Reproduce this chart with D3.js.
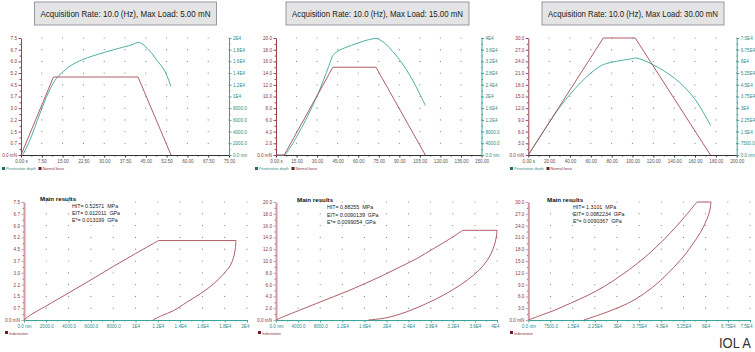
<!DOCTYPE html>
<html>
<head>
<meta charset="utf-8">
<script src="https://cdn.jsdelivr.net/npm/d3@7"></script>
<style>
  body { margin: 0; background: #fff; }
  svg text { font-family: "Liberation Sans", Arial, sans-serif; }
</style>
</head>
<body>
<svg id="chart" width="755" height="352"></svg>
<script>
const titles = [
  "Acquisition Rate: 10.0 (Hz), Max Load: 5.00 mN",
  "Acquisition Rate: 10.0 (Hz), Max Load: 15.00 mN",
  "Acquisition Rate: 10.0 (Hz), Max Load: 30.00 mN"
];

// ---- time curves (s -> mN, s -> nm)
const forceTimeA = [0, 11.7, 42.2, 54.1];
const forceA = [0, 5.0, 5.0, 0];
const depthTimeA = [0.6, 3, 6.9, 10, 12.9, 14.5, 18, 21.9, 26, 30, 33.5, 37.3, 40, 42.3, 44, 45.5, 47.3, 49, 50.5, 52, 54.1];
const depthA = [0, 2300, 7180, 10800, 13200, 13960, 15300, 16260, 16950, 17530, 18000, 18500, 18850, 19250, 18900, 18220, 17300, 16200, 15300, 14200, 11700];

const forceTimeB = [0, 6, 41.5, 73, 109];
const forceB = [0, 0, 15, 15, 0];
const depthTimeB = [0, 6, 10, 20, 30, 35, 38.5, 41.5, 45, 50, 55, 60, 65, 70, 73, 76, 80, 85, 90, 95, 100, 105, 109];
const depthB = [0, 0, 2300, 10500, 20200, 26000, 30300, 34000, 35500, 36600, 37500, 38300, 39100, 39650, 39900, 39300, 38000, 35500, 32700, 29300, 25350, 20850, 16900];

const forceTimeC = [0, 72, 102.6, 174.8];
const forceC = [0, 30, 30, 0];
const depthTimeC = [0, 10, 20, 30, 40, 50, 60, 70, 80, 90, 100, 103, 110, 120, 130, 140, 150, 160, 167, 175];
const depthC = [0, 10500, 20800, 30460, 38860, 46200, 52500, 57350, 59450, 60700, 61760, 62180, 60900, 57770, 54000, 49370, 43500, 35700, 28360, 18900];

// ---- indentation curves (nm -> mN)
const loadDepthA = [0, 500, 2000, 4000, 6000, 8000, 10000, 12070];
const loadForceA = [0, 0.28, 0.9, 1.72, 2.55, 3.4, 4.22, 5.05];
const unloadDepthA = [19010, 18950, 18800, 18500, 17900, 17000, 15800, 14600, 13400, 12360, 11560];
const unloadForceA = [5.05, 4.53, 3.99, 3.46, 2.93, 2.29, 1.66, 1.13, 0.59, 0.28, 0];

const loadDepthB = [0, 1330, 4350, 7370, 10390, 13410, 16430, 19460, 22480, 25500, 28520, 31540, 33780];
const loadForceB = [0, 0.56, 1.69, 2.82, 3.94, 5.07, 6.31, 7.61, 9.01, 10.42, 12.11, 13.8, 15.2];
const unloadDepthB = [40000, 39880, 39520, 38790, 37580, 35770, 33350, 30330, 27310, 23690, 20060, 16740];
const unloadForceB = [15.2, 14.08, 12.68, 10.99, 9.3, 7.61, 5.92, 4.23, 2.82, 1.41, 0.39, 0];

const loadDepthC = [0, 4480, 8960, 14550, 20150, 25750, 31340, 36940, 42540, 48130, 52610, 57090];
const loadForceC = [0, 1.26, 2.51, 4.36, 6.28, 8.55, 11.31, 14.41, 18.02, 22.21, 25.98, 30];
const unloadDepthC = [61790, 61570, 61010, 59890, 58210, 55970, 53170, 49250, 44780, 39180, 33580, 26870, 18810];
const unloadForceC = [30, 28.49, 26.82, 24.72, 22.21, 19.69, 16.76, 13.41, 10.06, 6.7, 4.19, 2.09, 0];

// ---- tick labels
const timeLabelsA = ["0.00 s", "7.50", "15.00", "22.50", "30.00", "37.50", "45.00", "52.50", "60.00", "67.50", "75.00"];
const timeLabelsB = ["0.00 s", "15.00", "30.00", "45.00", "60.00", "75.00", "90.00", "105.00", "120.00", "135.00", "150.00"];
const timeLabelsC = ["0.00 s", "20.00", "40.00", "60.00", "80.00", "100.00", "120.00", "140.00", "160.00", "180.00", "200.00"];
const forceLabelsA = ["0.0 mN", "0.7", "1.5", "2.2", "3.0", "3.7", "4.5", "5.2", "6.0", "6.7", "7.5"];
const forceLabelsB = ["0.0 mN", "2.0", "4.0", "6.0", "8.0", "10.0", "12.0", "14.0", "16.0", "18.0", "20.0"];
const forceLabelsC = ["0.0 mN", "3.0", "6.0", "9.0", "12.0", "15.0", "18.0", "21.0", "24.0", "27.0", "30.0"];
const depthLabelsA = ["0.0 nm", "2000.0", "4000.0", "6000.0", "8000.0", "1E4", "1.2E4", "1.4E4", "1.6E4", "1.8E4", "2E4"];
const depthLabelsB = ["0.0 nm", "4000.0", "8000.0", "1.2E4", "1.6E4", "2E4", "2.4E4", "2.8E4", "3.2E4", "3.6E4", "4E4"];
const depthLabelsC = ["0.0 nm", "7500.0", "1.5E4", "2.25E4", "3E4", "3.75E4", "4.5E4", "5.25E4", "6E4", "6.75E4", "7.5E4"];

const resultsA = ["HIT= 0.52571  MPa", "EIT= 0.012011  GPa", "E*= 0.013199  GPa"];
const resultsB = ["HIT= 0.88255  MPa", "EIT= 0.0090139  GPa", "E*= 0.0099054  GPa"];
const resultsC = ["HIT= 1.3101  MPa", "EIT= 0.0082234  GPa", "E*= 0.0090367  GPa"];

const RED = "#a64c58";
const RED_AXIS = "#9c3f4a";
const TEAL = "#3aa59b";
const TEAL_DARK = "#1d6f68";
const LABEL = "#555";

const svg = d3.select("#chart");

function zip(xs, ys) { return xs.map((v, i) => [v, ys[i]]); }

function dots(g, x, y, xMax, yMax) {
  const pts = [];
  for (let i = 1; i <= 10; i++)
    for (let j = 1; j <= 10; j++) pts.push([xMax * i / 10, yMax * j / 10]);
  g.selectAll("circle.dot").data(pts).enter().append("circle")
    .attr("class", "dot")
    .attr("cx", d => x(d[0])).attr("cy", d => y(d[1]))
    .attr("r", 0.6).attr("fill", "#858585");
}

function styleAxis(sel, color, labelColor) {
  sel.select(".domain").attr("stroke", color);
  sel.selectAll(".tick line").attr("stroke", color);
  sel.selectAll(".tick text").attr("fill", labelColor).attr("font-size", 4.6)
    .style("font-family", "Liberation Sans, Arial, sans-serif");
}

function minor(g, axisFn, scale, max, transform, color) {
  const vals = d3.range(10).map(i => max * (i + 0.5) / 10);
  const a = g.append("g").attr("transform", transform)
    .call(axisFn(scale).tickValues(vals).tickSize(1.5).tickSizeOuter(0).tickFormat(""));
  a.select(".domain").remove();
  a.selectAll(".tick line").attr("stroke", color);
}

function titleBox(x0, x1, text) {
  svg.append("rect").attr("x", x0).attr("y", 2).attr("width", x1 - x0).attr("height", 23)
    .attr("fill", "#e4e4e4").attr("stroke", "#7d8590").attr("stroke-width", 0.8);
  svg.append("text").attr("x", (x0 + x1) / 2).attr("y", 17.3)
    .attr("text-anchor", "middle").attr("font-size", 9.2).attr("fill", "#222")
    .attr("textLength", x1 - x0 - 12).attr("lengthAdjust", "spacingAndGlyphs")
    .text(text);
}

function timePanel(p) {
  const g = svg.append("g");
  const top = 38, bottom = 155;
  const x = d3.scaleLinear().domain([0, p.tMax]).range([p.x0, p.x1]);
  const yF = d3.scaleLinear().domain([0, p.fMax]).range([bottom, top]);
  const yD = d3.scaleLinear().domain([0, p.dMax]).range([bottom, top]);
  const ticks = m => d3.range(11).map(i => m * i / 10);

  dots(g, x, yF, p.tMax, p.fMax);

  const ax = g.append("g").attr("transform", `translate(0,${bottom})`)
    .call(d3.axisBottom(x).tickValues(ticks(p.tMax)).tickSize(2.5).tickSizeOuter(0)
      .tickPadding(2).tickFormat((d, i) => p.tLabels[i]));
  styleAxis(ax, "#333", LABEL);
  minor(g, d3.axisBottom, x, p.tMax, `translate(0,${bottom})`, "#333");

  const al = g.append("g").attr("transform", `translate(${p.x0},0)`)
    .call(d3.axisLeft(yF).tickValues(ticks(p.fMax)).tickSize(2.5).tickSizeOuter(0)
      .tickPadding(1.5).tickFormat((d, i) => p.fLabels[i]));
  styleAxis(al, RED_AXIS, "#8a3540");
  minor(g, d3.axisLeft, yF, p.fMax, `translate(${p.x0},0)`, RED_AXIS);

  const ar = g.append("g").attr("transform", `translate(${p.x1},0)`)
    .call(d3.axisRight(yD).tickValues(ticks(p.dMax)).tickSize(2.5).tickSizeOuter(0)
      .tickPadding(1.5).tickFormat((d, i) => p.dLabels[i]));
  styleAxis(ar, TEAL, "#2f8c84");
  minor(g, d3.axisRight, yD, p.dMax, `translate(${p.x1},0)`, TEAL);

  const lineF = d3.line().x(d => x(d[0])).y(d => yF(d[1]));
  const lineD = d3.line().x(d => x(d[0])).y(d => yD(d[1])).curve(d3.curveCatmullRom.alpha(0.5));
  g.append("path").datum(zip(p.depthT, p.depth)).attr("d", lineD)
    .attr("fill", "none").attr("stroke", TEAL).attr("stroke-width", 0.9);
  g.append("path").datum(zip(p.forceT, p.force)).attr("d", lineF)
    .attr("fill", "none").attr("stroke", RED).attr("stroke-width", 0.9);

  // legend
  const lg = g.append("g").attr("transform", `translate(${p.legX},167)`);
  lg.append("rect").attr("x", 0).attr("y", 0).attr("width", 3).attr("height", 3).attr("fill", TEAL_DARK);
  lg.append("text").attr("x", 4).attr("y", 3).attr("font-size", 3.8).attr("fill", "#3a8c86").text("Penetration depth");
  lg.append("rect").attr("x", 36.5).attr("y", 0).attr("width", 3).attr("height", 3).attr("fill", "#6e1c24");
  lg.append("text").attr("x", 40.5).attr("y", 3).attr("font-size", 3.8).attr("fill", "#8a3540").text("Normal force");
}

function indentPanel(p) {
  const g = svg.append("g");
  const top = 202, bottom = 320;
  const x = d3.scaleLinear().domain([0, p.dMax]).range([p.x0, p.x1]);
  const y = d3.scaleLinear().domain([0, p.fMax]).range([bottom, top]);
  const ticks = m => d3.range(11).map(i => m * i / 10);

  dots(g, x, y, p.dMax, p.fMax);

  const ax = g.append("g").attr("transform", `translate(0,${bottom})`)
    .call(d3.axisBottom(x).tickValues(ticks(p.dMax)).tickSize(2.5).tickSizeOuter(0)
      .tickPadding(2).tickFormat((d, i) => p.dLabels[i]));
  styleAxis(ax, TEAL, "#2f8c84");
  ax.select(".domain").attr("stroke-width", 1.2);
  // keep the last label inside the frame
  ax.selectAll(".tick text").filter((d, i) => i === 10).attr("text-anchor", "end").attr("dx", 2);
  minor(g, d3.axisBottom, x, p.dMax, `translate(0,${bottom})`, TEAL);

  const al = g.append("g").attr("transform", `translate(${p.x0},0)`)
    .call(d3.axisLeft(y).tickValues(ticks(p.fMax)).tickSize(2.5).tickSizeOuter(0)
      .tickPadding(1.5).tickFormat((d, i) => p.fLabels[i]));
  styleAxis(al, "#d49aa3", "#8a3540");
  al.select(".domain").attr("stroke-width", 2);
  minor(g, d3.axisLeft, y, p.fMax, `translate(${p.x0},0)`, "#c2707c");

  const curve = d3.line().x(d => x(d[0])).y(d => y(d[1])).curve(d3.curveCatmullRom.alpha(0.5));
  const load = zip(p.loadD, p.loadF);
  const unload = zip(p.unloadD, p.unloadF);
  [load, [load[load.length - 1], unload[0]], unload].forEach(pts => {
    g.append("path").datum(pts).attr("d", curve)
      .attr("fill", "none").attr("stroke", RED).attr("stroke-width", 0.9);
  });

  g.append("text").attr("x", p.mx).attr("y", p.my).attr("font-size", 6.2)
    .attr("font-weight", "bold").attr("fill", "#111").text("Main results");
  p.results.forEach((t, i) => {
    g.append("text").attr("x", p.rx).attr("y", p.my + 7.3 * (i + 1)).attr("font-size", 5.3)
      .attr("fill", "#222").style("white-space", "pre").text(t);
  });

  const lg = g.append("g").attr("transform", `translate(${p.legX},331)`);
  lg.append("rect").attr("width", 3).attr("height", 3).attr("fill", "#6e1c24");
  lg.append("text").attr("x", 4).attr("y", 4).attr("font-size", 3.8).attr("fill", "#8a3540").text("Indentation");
}

titleBox(34.5, 216.5, titles[0]);
titleBox(286, 469, titles[1]);
titleBox(542, 724, titles[2]);

timePanel({ x0: 21, x1: 229, tMax: 75, fMax: 7.5, dMax: 20000,
  tLabels: timeLabelsA, fLabels: forceLabelsA, dLabels: depthLabelsA,
  forceT: forceTimeA, force: forceA, depthT: depthTimeA, depth: depthA, legX: 2 });
timePanel({ x0: 276, x1: 481.5, tMax: 150, fMax: 20, dMax: 40000,
  tLabels: timeLabelsB, fLabels: forceLabelsB, dLabels: depthLabelsB,
  forceT: forceTimeB, force: forceB, depthT: depthTimeB, depth: depthB, legX: 255 });
timePanel({ x0: 528.3, x1: 736.7, tMax: 200, fMax: 30, dMax: 75000,
  tLabels: timeLabelsC, fLabels: forceLabelsC, dLabels: depthLabelsC,
  forceT: forceTimeC, force: forceC, depthT: depthTimeC, depth: depthC, legX: 510 });

indentPanel({ x0: 24, x1: 247, dMax: 20000, fMax: 7.5,
  dLabels: depthLabelsA, fLabels: forceLabelsA,
  loadD: loadDepthA, loadF: loadForceA, unloadD: unloadDepthA, unloadF: unloadForceA,
  results: resultsA, mx: 40, my: 200.5, rx: 72, legX: 5 });
indentPanel({ x0: 276, x1: 497, dMax: 40000, fMax: 20,
  dLabels: depthLabelsB, fLabels: forceLabelsB,
  loadD: loadDepthB, loadF: loadForceB, unloadD: unloadDepthB, unloadF: unloadForceB,
  results: resultsB, mx: 297, my: 202, rx: 327, legX: 258 });
indentPanel({ x0: 528.3, x1: 750, dMax: 75000, fMax: 30,
  dLabels: depthLabelsC, fLabels: forceLabelsC,
  loadD: loadDepthC, loadF: loadForceC, unloadD: unloadDepthC, unloadF: unloadForceC,
  results: resultsC, mx: 547, my: 201.5, rx: 573, legX: 510 });

svg.append("text").attr("x", 719).attr("y", 347.5).attr("font-size", 14)
  .attr("fill", "#333").attr("textLength", 32).attr("lengthAdjust", "spacingAndGlyphs")
  .text("IOL A");
</script>
</body>
</html>
